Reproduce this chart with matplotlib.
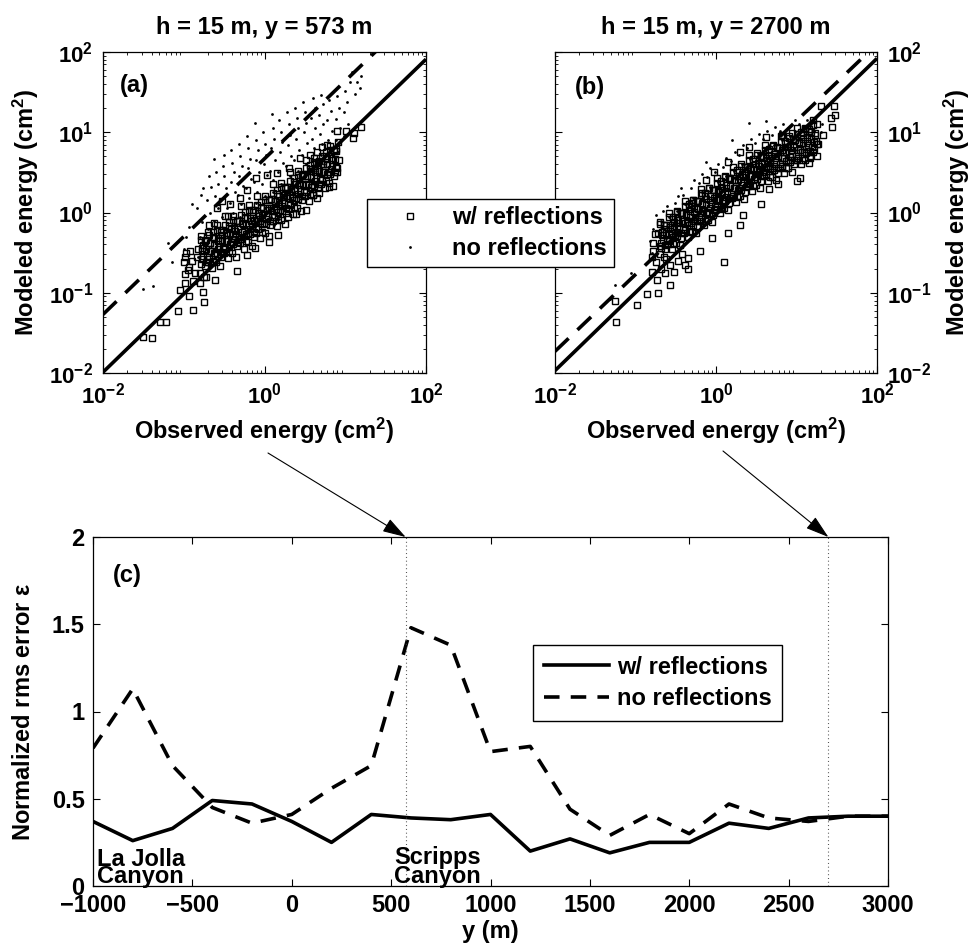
import numpy as np
import matplotlib
matplotlib.use("Agg")
import matplotlib.pyplot as plt
from matplotlib.lines import Line2D
from matplotlib.ticker import LogLocator, NullFormatter

plt.rcParams['font.family'] = ['Liberation Sans', 'DejaVu Sans']
plt.rcParams['font.weight'] = 'bold'
plt.rcParams['axes.labelweight'] = 'bold'
plt.rcParams['axes.titleweight'] = 'bold'
plt.rcParams['mathtext.fontset'] = 'custom'
plt.rcParams['mathtext.rm'] = 'Liberation Sans'
plt.rcParams['mathtext.bf'] = 'Liberation Sans:bold'
plt.rcParams['mathtext.it'] = 'Liberation Sans:italic'
plt.rcParams['mathtext.default'] = 'bf'

# ---------------- data (log10 of energies for scatter panels) ----------------
titles = ["h = 15 m, y = 573 m", "h = 15 m, y = 2700 m"]
series_labels = ["w/ reflections", "no reflections"]

# panel (a) squares: w/ reflections (outliers + edge points)
a_sq_x = [-1.51, -1.39, -1.30, -1.22, -1.07, -0.88, -0.94, -0.75, -1.05, -0.99, -0.99, -0.93, -0.92,
          -0.98, -0.76, -0.70, -0.63, -0.53, -0.45, -0.59, -0.34, -0.61, -0.76, -0.22, -0.12, 0.06,
          0.17, 0.29, 0.39, 0.52, 0.60, 0.67, 0.80, 0.90, 0.89, 0.77, 0.65, 0.90, 1.01, 1.09, 1.11,
          1.20, 0.56, 0.44, 0.30, 0.15, 0.03, -0.10, -0.22, -0.30, -0.43, -0.53,
          -1.00, -0.95, -0.90, -0.86, -0.83, -0.97, -0.88, -0.80, -0.72]
a_sq_y = [-1.55, -1.57, -1.36, -1.36, -1.23, -1.21, -1.04, -1.12, -0.97, -0.88, -0.77, -0.68, -0.48,
          -0.56, -0.40, -0.24, -0.13, -0.28, -0.04, 0.05, -0.73, -0.84, -0.99, -0.53, -0.44, -0.37,
          -0.28, -0.06, -0.02, 0.03, 0.22, 0.24, 0.32, 0.55, 0.77, 0.84, 0.76, 1.01, 1.01, 0.93, 0.99,
          1.06, 0.72, 0.68, 0.55, 0.49, 0.47, 0.43, 0.28, 0.18, 0.10, 0.14,
          -0.62, -0.72, -0.60, -0.75, -0.55, -0.50, -0.85, -0.88, -0.80]
# panel (a) squares: dense core
a_core_x = [[-0.80, -0.78, -0.82, -0.79], [-0.75, -0.73, -0.77, -0.74], [-0.70, -0.68, -0.72, -0.69],
            [-0.65, -0.63, -0.67, -0.64], [-0.60, -0.58, -0.62, -0.59], [-0.55, -0.53, -0.57, -0.54],
            [-0.50, -0.48, -0.52, -0.49], [-0.45, -0.43, -0.47, -0.44], [-0.40, -0.38, -0.42, -0.39],
            [-0.35, -0.33, -0.37, -0.34], [-0.30, -0.28, -0.32, -0.29], [-0.25, -0.23, -0.27, -0.24],
            [-0.20, -0.18, -0.22, -0.19], [-0.15, -0.13, -0.17, -0.14], [-0.10, -0.08, -0.12, -0.09],
            [-0.05, -0.03, -0.07, -0.04], [0.00, 0.02, -0.02, 0.01], [0.05, 0.07, 0.03, 0.06],
            [0.10, 0.12, 0.08, 0.11], [0.15, 0.17, 0.13, 0.16], [0.20, 0.22, 0.18, 0.21],
            [0.25, 0.27, 0.23, 0.26], [0.30, 0.32, 0.28, 0.31], [0.35, 0.37, 0.33, 0.36],
            [0.40, 0.42, 0.38, 0.41], [0.45, 0.47, 0.43, 0.46], [0.50, 0.52, 0.48, 0.51],
            [0.55, 0.57, 0.53, 0.56], [0.60, 0.62, 0.58, 0.61], [0.65, 0.67, 0.63, 0.66],
            [0.70, 0.72, 0.68, 0.71], [0.75, 0.77, 0.73, 0.76], [0.80, 0.82, 0.78, 0.81],
            [0.85, 0.87, 0.83, 0.86], [0.90, 0.92, 0.88, 0.91]]
a_core_y = [[-0.75, -0.58, -0.45, -0.29], [-0.80, -0.62, -0.48, -0.35], [-0.62, -0.48, -0.34, -0.16],
            [-0.69, -0.51, -0.38, -0.24], [-0.62, -0.45, -0.32, -0.16], [-0.67, -0.49, -0.35, -0.22],
            [-0.50, -0.36, -0.22, -0.04], [-0.57, -0.39, -0.26, -0.12], [-0.50, -0.33, -0.20, -0.04],
            [-0.55, -0.37, -0.23, -0.10], [-0.38, -0.24, -0.10, 0.08], [-0.45, -0.27, -0.14, 0.01],
            [-0.37, -0.20, -0.07, 0.09], [-0.42, -0.24, -0.10, 0.03], [-0.25, -0.11, 0.03, 0.21],
            [-0.32, -0.14, -0.01, 0.13], [-0.25, -0.08, 0.05, 0.21], [-0.29, -0.11, 0.03, 0.16],
            [-0.11, 0.03, 0.17, 0.35], [-0.17, 0.01, 0.14, 0.28], [-0.09, 0.08, 0.21, 0.37],
            [-0.14, 0.05, 0.19, 0.32], [0.04, 0.18, 0.32, 0.50], [-0.02, 0.16, 0.29, 0.43],
            [0.06, 0.23, 0.36, 0.52], [0.02, 0.20, 0.34, 0.47], [0.20, 0.34, 0.48, 0.66],
            [0.14, 0.32, 0.45, 0.59], [0.22, 0.39, 0.52, 0.68], [0.18, 0.36, 0.50, 0.63],
            [0.36, 0.50, 0.64, 0.82], [0.30, 0.48, 0.61, 0.75], [0.37, 0.54, 0.67, 0.83],
            [0.33, 0.51, 0.65, 0.78], [0.51, 0.65, 0.79, 0.88]]
# panel (a) squares: second, denser layer in the middle of the band
a_mid_x = [[-0.785, -0.760, -0.775, -0.790], [-0.735, -0.710, -0.725, -0.740], [-0.685, -0.660, -0.675, -0.690],
           [-0.635, -0.610, -0.625, -0.640], [-0.585, -0.560, -0.575, -0.590], [-0.535, -0.510, -0.525, -0.540],
           [-0.485, -0.460, -0.475, -0.490], [-0.435, -0.410, -0.425, -0.440], [-0.385, -0.360, -0.375, -0.390],
           [-0.335, -0.310, -0.325, -0.340], [-0.285, -0.260, -0.275, -0.290], [-0.235, -0.210, -0.225, -0.240],
           [-0.185, -0.160, -0.175, -0.190], [-0.135, -0.110, -0.125, -0.140], [-0.085, -0.060, -0.075, -0.090],
           [-0.035, -0.010, -0.025, -0.040], [0.015, 0.040, 0.025, 0.010], [0.065, 0.090, 0.075, 0.060],
           [0.115, 0.140, 0.125, 0.110], [0.165, 0.190, 0.175, 0.160], [0.215, 0.240, 0.225, 0.210],
           [0.265, 0.290, 0.275, 0.260], [0.315, 0.340, 0.325, 0.310], [0.365, 0.390, 0.375, 0.360],
           [0.415, 0.440, 0.425, 0.410], [0.465, 0.490, 0.475, 0.460], [0.515, 0.540, 0.525, 0.510],
           [0.565, 0.590, 0.575, 0.560], [0.615, 0.640, 0.625, 0.610], [0.665, 0.690, 0.675, 0.660],
           [0.715, 0.740, 0.725, 0.710], [0.765, 0.790, 0.775, 0.760], [0.815, 0.840, 0.825, 0.810],
           [0.865, 0.890, 0.875, 0.860]]
a_mid_y = [[-0.64, -0.54, -0.44, -0.34], [-0.67, -0.56, -0.46, -0.36], [-0.58, -0.48, -0.38, -0.28],
           [-0.61, -0.50, -0.40, -0.30], [-0.52, -0.42, -0.32, -0.22], [-0.55, -0.44, -0.34, -0.24],
           [-0.46, -0.36, -0.26, -0.16], [-0.48, -0.37, -0.27, -0.17], [-0.39, -0.29, -0.19, -0.09],
           [-0.42, -0.31, -0.21, -0.11], [-0.33, -0.23, -0.13, -0.03], [-0.36, -0.25, -0.15, -0.05],
           [-0.27, -0.17, -0.07, 0.03], [-0.30, -0.19, -0.09, 0.01], [-0.21, -0.11, -0.01, 0.09],
           [-0.24, -0.13, -0.03, 0.07], [-0.14, -0.04, 0.06, 0.16], [-0.16, -0.05, 0.05, 0.15],
           [-0.06, 0.04, 0.14, 0.24], [-0.08, 0.03, 0.13, 0.23], [0.02, 0.12, 0.22, 0.32],
           [0.00, 0.11, 0.21, 0.31], [0.09, 0.19, 0.29, 0.39], [0.07, 0.18, 0.28, 0.38],
           [0.17, 0.27, 0.37, 0.47], [0.15, 0.26, 0.36, 0.46], [0.25, 0.35, 0.45, 0.55],
           [0.23, 0.34, 0.44, 0.54], [0.33, 0.43, 0.53, 0.63], [0.31, 0.42, 0.52, 0.62],
           [0.41, 0.51, 0.61, 0.71], [0.39, 0.50, 0.60, 0.70], [0.48, 0.58, 0.68, 0.78],
           [0.46, 0.57, 0.67, 0.77]]
# panel (a) dots: no reflections
a_dot_x = [-1.50, -1.38, -1.19, -1.15, -1.00, -0.97, -0.93, -0.90, -0.95,
           -0.82, -0.80, -0.78, -0.83, -0.79, -0.76,
           -0.72, -0.70, -0.68, -0.71, -0.66, -0.69,
           -0.62, -0.60, -0.58, -0.61, -0.57, -0.62, -0.59,
           -0.52, -0.50, -0.48, -0.51, -0.47, -0.53, -0.49, -0.50,
           -0.42, -0.40, -0.38, -0.41, -0.37, -0.43, -0.39, -0.40, -0.36,
           -0.32, -0.30, -0.28, -0.31, -0.27, -0.33, -0.29, -0.30, -0.26,
           -0.22, -0.20, -0.18, -0.21, -0.17, -0.23, -0.19, -0.20, -0.16, -0.22,
           -0.12, -0.10, -0.08, -0.11, -0.07, -0.13, -0.09, -0.10, -0.06, -0.12,
           -0.02, 0.00, 0.02, -0.01, 0.03, -0.03, 0.01, 0.00, 0.04, -0.02,
           0.09, 0.10, 0.12, 0.08, 0.13, 0.07, 0.11, 0.10, 0.14, 0.08, 0.12,
           0.18, 0.20, 0.22, 0.19, 0.23, 0.17, 0.21, 0.20, 0.24, 0.18,
           0.28, 0.30, 0.32, 0.29, 0.33, 0.27, 0.31, 0.30, 0.34, 0.28,
           0.38, 0.40, 0.42, 0.39, 0.43, 0.37, 0.41, 0.40, 0.44, 0.38,
           0.48, 0.50, 0.52, 0.49, 0.53, 0.47, 0.51, 0.50, 0.54, 0.48,
           0.60, 0.62, 0.58, 0.63, 0.59, 0.61, 0.60, 0.64, 0.57, 0.62,
           0.70, 0.72, 0.68, 0.73, 0.69, 0.71, 0.70, 0.74, 0.67,
           0.80, 0.82, 0.78, 0.83, 0.79, 0.81, 0.80, 0.84,
           0.90, 0.92, 0.88, 0.93, 0.89, 0.91,
           1.00, 1.02, 0.98, 1.03, 0.99,
           1.15, 1.08, 1.12, 1.18, 1.06, 1.20]
a_dot_y = [-0.95, -0.92, -0.38, -0.62, -0.45, -0.30, -0.18, 0.10, -0.62,
           -0.55, -0.30, -0.12, 0.05, 0.22, 0.30,
           -0.45, -0.20, 0.00, 0.15, 0.32, 0.45,
           0.67, 0.50, 0.35, 0.20, 0.05, -0.10, -0.30,
           0.58, 0.45, 0.30, 0.18, 0.05, -0.05, -0.20, 0.72,
           0.78, 0.62, 0.50, 0.38, 0.25, 0.12, 0.00, -0.15, -0.30,
           0.85, 0.70, 0.58, 0.45, 0.33, 0.22, 0.10, -0.05, -0.18,
           0.95, 0.80, 0.67, 0.55, 0.42, 0.30, 0.18, 0.05, -0.10, -0.25,
           1.11, 0.90, 0.78, 0.65, 0.50, 0.38, 0.25, 0.12, -0.02, -0.18,
           1.00, 0.85, 0.72, 0.60, 0.47, 0.35, 0.20, 0.05, -0.10, -0.22,
           1.23, 1.05, 0.92, 0.80, 0.66, 0.52, 0.40, 0.25, 0.10, -0.05, -0.15,
           1.15, 1.00, 0.88, 0.75, 0.62, 0.50, 0.35, 0.20, 0.05, -0.08,
           1.25, 1.10, 0.96, 0.84, 0.70, 0.58, 0.45, 0.30, 0.15, 0.02,
           1.30, 1.18, 1.05, 0.92, 0.78, 0.65, 0.52, 0.38, 0.22, 0.10,
           1.38, 1.25, 1.12, 1.00, 0.86, 0.72, 0.60, 0.45, 0.30, 0.18,
           1.43, 1.30, 1.18, 1.05, 0.92, 0.80, 0.66, 0.52, 0.40, 0.28,
           1.46, 1.35, 1.22, 1.10, 0.98, 0.85, 0.72, 0.60, 0.48,
           1.40, 1.27, 1.15, 1.02, 0.90, 0.78, 0.65, 0.55,
           1.45, 1.30, 1.17, 1.05, 0.90, 0.75,
           1.52, 1.38, 1.25, 1.10, 0.95,
           1.63, 1.75, 1.48, 1.55, 1.62, 1.70]

# panel (b) squares
b_sq_x = [-1.24, -1.26, -0.98, -0.86, -0.72, -0.57, -0.73, -0.63, -0.80, -0.78, -0.76, -0.65, -0.55,
          -0.48, -0.35, -0.35, -0.20, 0.10, -0.05, 0.15, 0.30, 0.34, 0.56, 0.66, 0.77, 1.00, 1.04,
          1.17, 1.25, 1.33, 1.44, 1.48, 1.43, 1.47, 1.30, -0.30, -0.18, -0.02, 0.15, 0.30, 0.41,
          0.62, 0.82, 0.95, 1.15, 0.65, -0.12, -0.23,
          -0.80, -0.74, -0.68, -0.62, -0.57, -0.52, -0.47, -0.42, -0.38, -0.70, -0.78]
b_sq_y = [-1.36, -1.10, -1.15, -1.02, -1.00, -0.90, -0.84, -0.75, -0.74, -0.48, -0.27, -0.20, -0.20,
          -0.09, -0.71, -0.57, -0.48, -0.62, -0.32, -0.26, -0.15, -0.03, 0.10, 0.29, 0.36, 0.39, 0.43,
          0.68, 0.85, 0.97, 1.06, 1.21, 1.18, 1.33, 1.33, 0.12, 0.24, 0.51, 0.63, 0.75, 0.82,
          0.94, 0.97, 0.99, 1.04, 0.55, 0.41, 0.05,
          -0.55, -0.62, -0.70, -0.58, -0.66, -0.74, -0.60, -0.52, -0.66, -0.42, -0.38]
b_core_x = [[-0.70, -0.68, -0.72, -0.69], [-0.65, -0.63, -0.67, -0.64], [-0.60, -0.58, -0.62, -0.59],
            [-0.55, -0.53, -0.57, -0.54], [-0.50, -0.48, -0.52, -0.49], [-0.45, -0.43, -0.47, -0.44],
            [-0.40, -0.38, -0.42, -0.39], [-0.35, -0.33, -0.37, -0.34], [-0.30, -0.28, -0.32, -0.29],
            [-0.25, -0.23, -0.27, -0.24], [-0.20, -0.18, -0.22, -0.19], [-0.15, -0.13, -0.17, -0.14],
            [-0.10, -0.08, -0.12, -0.09], [-0.05, -0.03, -0.07, -0.04], [0.00, 0.02, -0.02, 0.01],
            [0.05, 0.07, 0.03, 0.06], [0.10, 0.12, 0.08, 0.11], [0.15, 0.17, 0.13, 0.16],
            [0.20, 0.22, 0.18, 0.21], [0.25, 0.27, 0.23, 0.26], [0.30, 0.32, 0.28, 0.31],
            [0.35, 0.37, 0.33, 0.36], [0.40, 0.42, 0.38, 0.41], [0.45, 0.47, 0.43, 0.46],
            [0.50, 0.52, 0.48, 0.51], [0.55, 0.57, 0.53, 0.56], [0.60, 0.62, 0.58, 0.61],
            [0.65, 0.67, 0.63, 0.66], [0.70, 0.72, 0.68, 0.71], [0.75, 0.77, 0.73, 0.76],
            [0.80, 0.82, 0.78, 0.81], [0.85, 0.87, 0.83, 0.86], [0.90, 0.92, 0.88, 0.91],
            [0.95, 0.97, 0.93, 0.96], [1.00, 1.02, 0.98, 1.01], [1.05, 1.07, 1.03, 1.06],
            [1.10, 1.12, 1.08, 1.11], [1.15, 1.17, 1.13, 1.16], [1.20, 1.22, 1.18, 1.21],
            [1.25, 1.27, 1.23, 1.26]]
b_core_y = [[-0.52, -0.38, -0.26, -0.12], [-0.55, -0.40, -0.28, -0.15], [-0.39, -0.27, -0.15, 0.00],
            [-0.45, -0.30, -0.18, -0.05], [-0.38, -0.24, -0.12, 0.02], [-0.40, -0.25, -0.13, 0.00],
            [-0.25, -0.13, -0.01, 0.14], [-0.30, -0.15, -0.03, 0.10], [-0.24, -0.10, 0.02, 0.16],
            [-0.26, -0.11, 0.01, 0.14], [-0.10, 0.02, 0.14, 0.29], [-0.16, -0.01, 0.11, 0.24],
            [-0.09, 0.05, 0.17, 0.31], [-0.12, 0.03, 0.15, 0.28], [0.04, 0.16, 0.28, 0.43],
            [-0.01, 0.14, 0.26, 0.39], [0.05, 0.19, 0.31, 0.45], [0.03, 0.18, 0.30, 0.43],
            [0.18, 0.30, 0.42, 0.57], [0.13, 0.28, 0.40, 0.53], [0.20, 0.34, 0.46, 0.60],
            [0.17, 0.32, 0.44, 0.57], [0.33, 0.45, 0.57, 0.72], [0.27, 0.42, 0.54, 0.67],
            [0.34, 0.48, 0.60, 0.74], [0.31, 0.46, 0.58, 0.71], [0.45, 0.57, 0.69, 0.84],
            [0.39, 0.54, 0.66, 0.79], [0.44, 0.58, 0.70, 0.84], [0.41, 0.56, 0.68, 0.81],
            [0.56, 0.68, 0.80, 0.95], [0.49, 0.64, 0.76, 0.89], [0.55, 0.69, 0.81, 0.95],
            [0.51, 0.66, 0.78, 0.91], [0.66, 0.78, 0.90, 1.05], [0.60, 0.75, 0.87, 1.00],
            [0.65, 0.79, 0.91, 1.05], [0.62, 0.77, 0.89, 1.02], [0.76, 0.88, 1.00, 1.15],
            [0.70, 0.85, 0.97, 1.10]]
b_mid_x = [[-0.685, -0.660, -0.675, -0.690], [-0.635, -0.610, -0.625, -0.640], [-0.585, -0.560, -0.575, -0.590],
           [-0.535, -0.510, -0.525, -0.540], [-0.485, -0.460, -0.475, -0.490], [-0.435, -0.410, -0.425, -0.440],
           [-0.385, -0.360, -0.375, -0.390], [-0.335, -0.310, -0.325, -0.340], [-0.285, -0.260, -0.275, -0.290],
           [-0.235, -0.210, -0.225, -0.240], [-0.185, -0.160, -0.175, -0.190], [-0.135, -0.110, -0.125, -0.140],
           [-0.085, -0.060, -0.075, -0.090], [-0.035, -0.010, -0.025, -0.040], [0.015, 0.040, 0.025, 0.010],
           [0.065, 0.090, 0.075, 0.060], [0.115, 0.140, 0.125, 0.110], [0.165, 0.190, 0.175, 0.160],
           [0.215, 0.240, 0.225, 0.210], [0.265, 0.290, 0.275, 0.260], [0.315, 0.340, 0.325, 0.310],
           [0.365, 0.390, 0.375, 0.360], [0.415, 0.440, 0.425, 0.410], [0.465, 0.490, 0.475, 0.460],
           [0.515, 0.540, 0.525, 0.510], [0.565, 0.590, 0.575, 0.560], [0.615, 0.640, 0.625, 0.610],
           [0.665, 0.690, 0.675, 0.660], [0.715, 0.740, 0.725, 0.710], [0.765, 0.790, 0.775, 0.760],
           [0.815, 0.840, 0.825, 0.810], [0.865, 0.890, 0.875, 0.860], [0.915, 0.940, 0.925, 0.910],
           [0.965, 0.990, 0.975, 0.960], [1.015, 1.040, 1.025, 1.010], [1.065, 1.090, 1.075, 1.060],
           [1.115, 1.140, 1.125, 1.110], [1.165, 1.190, 1.175, 1.160], [1.215, 1.240, 1.225, 1.210]]
b_mid_y = [[-0.44, -0.34, -0.24, -0.14], [-0.46, -0.35, -0.25, -0.15], [-0.36, -0.26, -0.16, -0.06],
           [-0.39, -0.28, -0.18, -0.08], [-0.29, -0.19, -0.09, 0.01], [-0.32, -0.21, -0.11, -0.01],
           [-0.22, -0.12, -0.02, 0.08], [-0.24, -0.13, -0.03, 0.07], [-0.15, -0.05, 0.05, 0.15],
           [-0.17, -0.06, 0.04, 0.14], [-0.08, 0.02, 0.12, 0.22], [-0.10, 0.01, 0.11, 0.21],
           [0.00, 0.10, 0.20, 0.30], [-0.03, 0.08, 0.18, 0.28], [0.07, 0.17, 0.27, 0.37],
           [0.04, 0.15, 0.25, 0.35], [0.14, 0.24, 0.34, 0.44], [0.12, 0.23, 0.33, 0.43],
           [0.21, 0.31, 0.41, 0.51], [0.19, 0.30, 0.40, 0.50], [0.28, 0.38, 0.48, 0.58],
           [0.26, 0.37, 0.47, 0.57], [0.36, 0.46, 0.56, 0.66], [0.33, 0.44, 0.54, 0.64],
           [0.42, 0.52, 0.62, 0.72], [0.39, 0.50, 0.60, 0.70], [0.48, 0.58, 0.68, 0.78],
           [0.44, 0.55, 0.65, 0.75], [0.53, 0.63, 0.73, 0.83], [0.49, 0.60, 0.70, 0.80],
           [0.58, 0.68, 0.78, 0.88], [0.55, 0.66, 0.76, 0.86], [0.63, 0.73, 0.83, 0.93],
           [0.60, 0.71, 0.81, 0.91], [0.68, 0.78, 0.88, 0.98], [0.65, 0.76, 0.86, 0.96],
           [0.74, 0.84, 0.94, 1.04], [0.70, 0.81, 0.91, 1.01], [0.79, 0.89, 0.99, 1.09]]
b_dot_x = [-1.25, -1.32, -1.05,
           -0.82, -0.78, -0.74, -0.80,
           -0.72, -0.70, -0.68, -0.66,
           -0.62, -0.60, -0.58, -0.61,
           -0.52, -0.50, -0.48, -0.51, -0.47,
           -0.42, -0.40, -0.38, -0.41, -0.43,
           -0.32, -0.30, -0.28, -0.31, -0.27,
           -0.22, -0.20, -0.18, -0.21, -0.17,
           -0.12, -0.10, -0.08, -0.11, -0.12, -0.07,
           -0.02, 0.00, 0.02, -0.01, 0.03,
           0.08, 0.10, 0.12, 0.09, 0.13,
           0.18, 0.20, 0.22, 0.19, 0.23, 0.20,
           0.28, 0.30, 0.32, 0.29, 0.33,
           0.38, 0.40, 0.42, 0.41, 0.39, 0.43,
           0.48, 0.50, 0.52, 0.49, 0.53,
           0.58, 0.60, 0.62, 0.59, 0.62, 0.63,
           0.68, 0.70, 0.72, 0.69, 0.73,
           0.78, 0.80, 0.82, 0.79, 0.83,
           0.88, 0.90, 0.92, 0.89, 0.98,
           1.00, 1.02, 0.98, 1.03,
           1.10, 1.12, 1.08, 1.13,
           1.20, 1.22, 1.18,
           1.30, 1.32]
b_dot_y = [-0.90, -1.08, -0.75,
           -0.35, -0.20, -0.03, -0.50,
           -0.40, -0.25, -0.10, 0.02,
           -0.32, -0.18, -0.05, 0.08,
           -0.25, -0.10, 0.02, 0.12, 0.20,
           -0.15, -0.02, 0.10, 0.22, 0.30,
           -0.08, 0.05, 0.18, 0.30, 0.40,
           0.00, 0.12, 0.25, 0.37, 0.48,
           0.06, 0.20, 0.32, 0.44, 0.63, 0.55,
           0.12, 0.26, 0.38, 0.50, 0.60,
           0.20, 0.33, 0.45, 0.57, 0.68,
           0.28, 0.40, 0.52, 0.64, 0.76, 0.90,
           0.35, 0.48, 0.60, 0.72, 0.84,
           0.42, 0.55, 0.67, 1.12, 0.80, 0.92,
           0.50, 0.62, 0.74, 0.86, 0.98,
           0.55, 0.68, 0.80, 0.92, 1.14, 1.02,
           0.60, 0.72, 0.84, 0.96, 1.06,
           0.65, 0.78, 0.90, 1.02, 1.10,
           0.70, 0.82, 0.95, 1.05, 1.15,
           0.78, 0.90, 1.00, 1.10,
           0.84, 0.96, 1.06, 1.15,
           0.92, 1.02, 1.10,
           1.00, 1.10]

# reference lines (log10 endpoints at observed = 1e-2 and 1e2)
fit_x = [-2.0, 2.0]
a_solid = [-1.99, 1.91]
a_dashed = [-1.27, 2.61]
b_solid = [-1.97, 1.92]
b_dashed = [-1.73, 2.10]

# panel (c)
y_pos = [-1000, -800, -600, -400, -200, 0, 200, 400, 600, 800, 1000, 1200, 1400, 1600, 1800,
         2000, 2200, 2400, 2600, 2800, 3000]
err_refl = [0.37, 0.26, 0.33, 0.49, 0.47, 0.37, 0.25, 0.41, 0.39, 0.38, 0.41, 0.20, 0.27, 0.19,
            0.25, 0.25, 0.36, 0.33, 0.39, 0.40, 0.40]
err_norefl = [0.79, 1.13, 0.69, 0.45, 0.36, 0.41, 0.56, 0.69, 1.48, 1.38, 0.77, 0.80, 0.44, 0.29,
              0.41, 0.30, 0.47, 0.39, 0.37, 0.40, 0.40]
mark_y = [573, 2700]

# ---------------- figure ----------------
W, H = 971, 948
fig = plt.figure(figsize=(W / 100, H / 100), dpi=100)


def fpos(l, t, r, b):
    return [l / W, 1 - b / H, (r - l) / W, (b - t) / H]


ax_a = fig.add_axes(fpos(103, 52, 426, 373))
ax_b = fig.add_axes(fpos(555, 52, 877, 373))
ax_c = fig.add_axes(fpos(93, 537, 888, 886))

LW = 2.6
FS = 17
TFS = 16
SQ_MS, SQ_MEW = 3.8, 1.0
DOT_MS = 2.0


def scatter_panel(ax, sq_x, sq_y, core_x, core_y, mid_x, mid_y, dot_x, dot_y, solid, dashed,
                  tag, title):
    sx = np.concatenate([np.array(sq_x), np.ravel(core_x), np.ravel(mid_x)])
    sy = np.concatenate([np.array(sq_y), np.ravel(core_y), np.ravel(mid_y)])
    ax.plot(10 ** sx, 10 ** sy, ls='none', marker='s', ms=SQ_MS, mfc='none', mec='k', mew=SQ_MEW)
    ax.plot(10 ** np.array(dot_x), 10 ** np.array(dot_y), ls='none', marker='o', ms=DOT_MS,
            mfc='k', mec='none')
    fx = 10 ** np.array(fit_x)
    ax.plot(fx, 10 ** np.array(solid), color='k', lw=LW, solid_capstyle='butt')
    ax.plot(fx, 10 ** np.array(dashed), color='k', lw=LW, ls=(0, (5.2, 3.4)), dash_capstyle='butt')
    ax.set_xscale('log')
    ax.set_yscale('log')
    ax.set_xlim(1e-2, 1e2)
    ax.set_ylim(1e-2, 1e2)
    ax.set_xticks([1e-2, 1, 1e2])
    ax.set_xticklabels([r'$10^{-2}$', r'$10^{0}$', r'$10^{2}$'])
    ax.set_yticks([1e-2, 1e-1, 1, 1e1, 1e2])
    ax.set_yticklabels([r'$10^{-2}$', r'$10^{-1}$', r'$10^{0}$', r'$10^{1}$', r'$10^{2}$'])
    ax.xaxis.set_minor_locator(LogLocator(base=10, subs=np.arange(2, 10)))
    ax.yaxis.set_minor_locator(LogLocator(base=10, subs=np.arange(2, 10)))
    ax.xaxis.set_minor_formatter(NullFormatter())
    ax.yaxis.set_minor_formatter(NullFormatter())
    ax.tick_params(which='both', direction='in', top=True, right=True, width=0.8)
    ax.tick_params(which='major', length=5, labelsize=TFS, pad=7)
    ax.tick_params(which='minor', length=2.2, width=0.6)
    for s in ax.spines.values():
        s.set_linewidth(0.9)
    ax.set_xlabel(r'Observed energy (cm$^{2}$)', fontsize=FS, labelpad=5)
    ax.set_title(title, fontsize=FS, pad=13)
    ax.text(tag[1], tag[2], tag[0], transform=ax.transAxes, fontsize=FS, ha='left', va='center')


scatter_panel(ax_a, a_sq_x, a_sq_y, a_core_x, a_core_y, a_mid_x, a_mid_y, a_dot_x, a_dot_y,
              a_solid, a_dashed, ('(a)', 0.053, 0.897), titles[0])
scatter_panel(ax_b, b_sq_x, b_sq_y, b_core_x, b_core_y, b_mid_x, b_mid_y, b_dot_x, b_dot_y,
              b_solid, b_dashed, ('(b)', 0.062, 0.888), titles[1])
ax_a.set_ylabel(r'Modeled energy (cm$^{2}$)', fontsize=FS, labelpad=6)
ax_b.yaxis.set_label_position('right')
ax_b.tick_params(which='both', labelleft=False, labelright=True)
ax_b.set_ylabel(r'Modeled energy (cm$^{2}$)', fontsize=FS, labelpad=8)

handles = [Line2D([], [], ls='none', marker='s', ms=SQ_MS, mfc='none', mec='k', mew=SQ_MEW),
           Line2D([], [], ls='none', marker='o', ms=DOT_MS, mfc='k', mec='none')]
leg1 = fig.legend(handles, series_labels, loc='upper left',
                  bbox_to_anchor=(367 / W, 1 - 199 / H), bbox_transform=fig.transFigure,
                  fontsize=FS, frameon=True, fancybox=False, framealpha=1, edgecolor='k',
                  borderpad=0.3, handlelength=3.0, handletextpad=0.3, labelspacing=0.35,
                  borderaxespad=0)
leg1.get_frame().set_linewidth(1.0)

# ---------------- panel (c) ----------------
ax_c.plot(y_pos, err_refl, color='k', lw=LW, label=series_labels[0])
ax_c.plot(y_pos, err_norefl, color='k', lw=LW, ls=(0, (4.3, 3.1)), label=series_labels[1])
for ym in mark_y:
    ax_c.axvline(ym, color='0.25', lw=0.8, ls=(0, (0.8, 2.6)))
ax_c.set_xlim(-1000, 3000)
ax_c.set_ylim(0, 2)
ax_c.set_xticks([-1000, -500, 0, 500, 1000, 1500, 2000, 2500, 3000])
ax_c.set_yticks([0, 0.5, 1, 1.5, 2])
ax_c.set_yticklabels(['0', '0.5', '1', '1.5', '2'])
ax_c.tick_params(direction='in', top=True, right=True, length=5, width=0.8, labelsize=FS, pad=6)
for s in ax_c.spines.values():
    s.set_linewidth(0.9)
ax_c.set_xlabel('y (m)', fontsize=FS, labelpad=2)
ax_c.set_ylabel(r'Normalized rms error $\mathrm{\epsilon}$', fontsize=FS, labelpad=12)
ax_c.text(0.025, 0.891, '(c)', transform=ax_c.transAxes, fontsize=FS, ha='left', va='center')
ax_c.text(-980, 0.115, 'La Jolla', fontsize=FS, ha='left', va='baseline')
ax_c.text(-980, 0.017, 'Canyon', fontsize=FS, ha='left', va='baseline')
ax_c.text(514, 0.125, 'Scripps', fontsize=FS, ha='left', va='baseline')
ax_c.text(514, 0.017, 'Canyon', fontsize=FS, ha='left', va='baseline')

leg2 = ax_c.legend(loc='upper left', bbox_to_anchor=(533 / W, 1 - 645 / H),
                   bbox_transform=fig.transFigure, fontsize=FS, frameon=True, fancybox=False,
                   framealpha=1, edgecolor='k', borderpad=0.45, handlelength=2.75,
                   handletextpad=0.35, labelspacing=0.35, borderaxespad=0)
leg2.get_frame().set_linewidth(1.0)

# arrows from panel x-labels to the marked alongshore positions
arrow_props = dict(arrowstyle='-|>,head_length=0.9,head_width=0.28', lw=0.8, color='k',
                   shrinkA=0, shrinkB=0, mutation_scale=16)
ax_c.annotate('', xy=(mark_y[0], 2.0), xycoords='data', xytext=(268 / W, 1 - 453 / H),
              textcoords='figure fraction', arrowprops=arrow_props, annotation_clip=False)
ax_c.annotate('', xy=(mark_y[1], 2.0), xycoords='data', xytext=(723 / W, 1 - 451 / H),
              textcoords='figure fraction', arrowprops=arrow_props, annotation_clip=False)

fig.savefig('out.png', dpi=100)
